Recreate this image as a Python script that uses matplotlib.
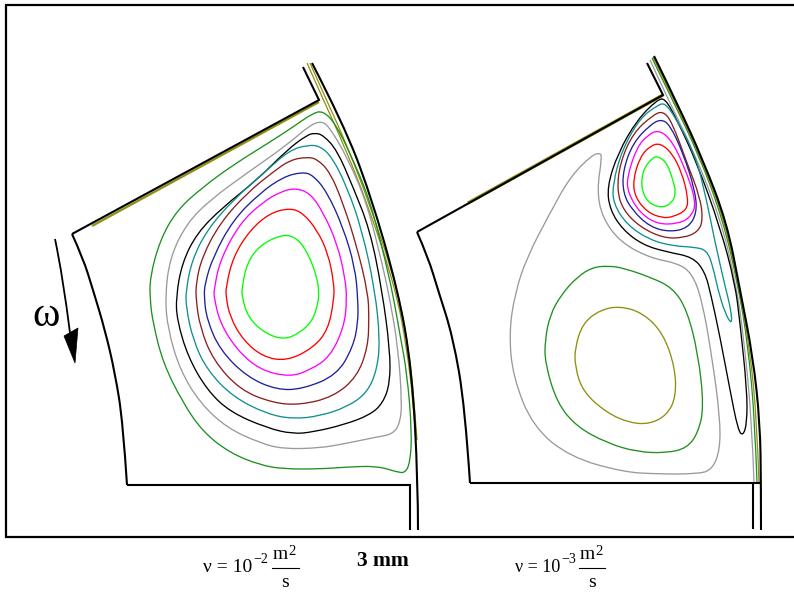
import matplotlib
matplotlib.use('Agg')
import matplotlib.pyplot as plt
from matplotlib.path import Path
from matplotlib.patches import PathPatch, Polygon

# semua koordinat, dalam piksel (y ke bawah)
frame_box = [(800, 5), (5.5, 5), (5.5, 537), (800, 537)]

# panel kiri, nu = 1e-2
left_inner = [(303, 67), (319, 100), (72, 234)]
left_arc = [(72, 234), (83, 258), (93, 290), (105, 330), (115, 373), (123, 423), (127, 485)]
left_base = [(127, 485), (410, 485), (410, 530)]
left_wall = [(312, 63), (343, 123), (370, 193), (398, 290), (412, 370), (418, 483), (418, 530)]
left_olive_top = [(92, 226), (319, 102)]
left_olive_a = [(307, 63), (323, 99), (343, 143), (368, 205), (396, 290), (407, 350), (413, 400), (416, 440)]
left_olive_b = [(310, 63), (326, 99), (346, 143), (370, 205), (398, 290), (409, 350), (414, 400), (417, 440)]

left_green = [(323, 111), (335, 123), (350, 153), (370, 200), (386, 263), (394, 300), (400, 335), (407, 373),
              (412, 433), (410, 463), (405, 473), (397, 472), (377, 466), (347, 467), (320, 469), (283, 469),
              (260, 465), (230, 453), (203, 432), (183, 403), (163, 363), (153, 323), (150, 300), (150, 277),
              (160, 240), (177, 210), (203, 187), (233, 165), (270, 142), (293, 127), (313, 113)]
left_gray = [(322, 121), (330, 128), (347, 157), (367, 203), (383, 267), (390, 300), (398, 347), (402, 403),
             (400, 423), (393, 434), (377, 437), (343, 444), (320, 448), (283, 449), (260, 443), (227, 428),
             (200, 403), (180, 370), (168, 330), (165, 297), (170, 257), (187, 223), (210, 200), (247, 173),
             (287, 145), (310, 125)]
left_black = [(315, 133), (323, 135), (337, 150), (353, 187), (370, 230), (382, 290), (390, 350), (390, 383),
              (383, 403), (370, 415), (343, 425), (313, 432), (293, 434), (267, 428), (230, 412), (207, 390),
              (188, 357), (177, 320), (176, 297), (182, 263), (197, 233), (223, 207), (257, 180), (287, 150),
              (307, 135)]
left_teal = [(308, 145), (320, 146), (332, 157), (347, 187), (362, 230), (375, 290), (380, 340), (377, 370),
             (367, 393), (347, 407), (320, 416), (293, 419), (267, 414), (233, 397), (207, 370), (193, 340),
             (186, 307), (186, 290), (192, 260), (207, 230), (233, 200), (267, 170), (290, 150)]
left_darkred = [(307, 157), (317, 159), (330, 172), (343, 203), (357, 247), (368, 293), (369, 317), (368, 347),
                (357, 377), (333, 397), (300, 405), (273, 403), (240, 390), (213, 360), (200, 327), (196, 300),
                (196, 283), (202, 257), (220, 223), (247, 193), (273, 172), (290, 160)]
left_blue = [(302, 172), (313, 175), (327, 192), (343, 227), (355, 267), (358, 300), (358, 323), (353, 347),
             (337, 375), (303, 389), (277, 390), (247, 377), (220, 350), (207, 320), (204, 297), (205, 283),
             (213, 257), (233, 220), (260, 193), (283, 177)]
left_magenta = [(295, 188), (310, 193), (323, 212), (337, 243), (345, 277), (347, 300), (344, 327), (330, 357),
                (310, 370), (290, 377), (260, 370), (237, 350), (220, 323), (214, 297), (214, 290), (220, 260),
                (240, 223), (263, 202), (280, 192)]
left_red = [(290, 208), (303, 213), (317, 230), (328, 253), (334, 283), (334, 300), (328, 330), (313, 348),
            (287, 361), (263, 357), (243, 340), (230, 317), (226, 297), (226, 287), (233, 257), (250, 230), (270, 213)]
left_lime = [(283, 234), (297, 238), (308, 253), (317, 277), (319, 293), (318, 303), (313, 320), (300, 333),
             (283, 340), (263, 332), (248, 317), (242, 297), (242, 287), (247, 263), (260, 245)]

# panel kanan, nu = 1e-3
right_inner = [(647, 63), (663, 95), (417, 232)]
right_arc = [(417, 232), (428, 257), (438, 290), (453, 337), (465, 407), (470, 483)]
right_base = [(470, 483), (761, 483)]
right_stub = [(752.5, 483), (752.5, 529)]
right_wall = [(654, 56), (677, 103), (703, 160), (727, 223), (740, 290), (753, 357), (760, 423), (761, 483), (761, 530)]
right_olive_top = [(468, 203), (663, 95)]
right_gray_wall = [(650, 60), (666, 95), (693, 150), (720, 217), (736, 283), (744, 340), (752, 423), (754, 483)]
right_green_wall = [(652, 58), (671, 97), (699, 155), (723, 220), (738, 285), (748, 345), (755, 423), (757, 483)]
right_olive_wall = [(653, 57), (674, 100), (701, 158), (725, 222), (739, 288), (750, 350), (757, 423), (759, 483)]

right_lime = [(658, 156), (667, 163), (673, 180), (676, 193), (672, 203), (662, 208), (648, 203), (641, 188),
              (643, 170), (652, 158)]
right_red = [(660, 143), (672, 153), (682, 173), (688, 197), (687, 210), (673, 217), (662, 218), (647, 212),
             (635, 197), (633, 180), (640, 157), (650, 146)]
right_magenta = [(658, 130), (670, 138), (683, 163), (697, 203), (690, 218), (677, 224), (657, 224), (640, 213),
                 (628, 193), (627, 177), (637, 147), (648, 135)]
right_blue = [(661, 119), (670, 125), (683, 153), (695, 190), (697, 213), (688, 228), (670, 232), (650, 227),
              (632, 210), (623, 193), (623, 170), (633, 143), (650, 125)]
right_darkred = [(663, 111), (672, 122), (687, 163), (700, 197), (703, 220), (698, 232), (683, 238), (663, 238),
                 (640, 227), (623, 210), (617, 190), (620, 163), (633, 133), (653, 115)]
right_teal = [(665, 103), (675, 117), (693, 150), (703, 183), (716, 247), (726, 290), (731, 310), (732, 325),
              (725, 313), (718, 290), (713, 267), (707, 250), (693, 247), (673, 246), (650, 240), (627, 225),
              (613, 203), (613, 183), (622, 150), (640, 118), (658, 105)]
right_black = [(665, 98), (677, 120), (697, 163), (720, 227), (735, 283), (740, 323), (747, 390), (747, 423),
               (743, 436), (738, 430), (730, 390), (720, 337), (711, 295), (705, 272), (693, 257), (667, 252),
               (643, 245), (623, 230), (610, 210), (607, 187), (618, 153), (637, 120), (657, 100)]
right_gray = [(600, 153), (592, 155), (570, 177), (550, 213), (527, 257), (515, 293), (509, 333), (513, 377),
              (533, 427), (570, 457), (623, 472), (657, 474), (697, 474), (712, 470), (720, 450), (720, 417),
              (712, 357), (702, 300), (692, 273), (677, 263), (650, 258), (620, 242), (602, 217), (597, 190),
              (602, 157)]
right_green = [(610, 266), (623, 268), (650, 277), (673, 288), (687, 310), (698, 353), (704, 407), (698, 433),
               (687, 448), (667, 453), (637, 452), (607, 443), (577, 427), (557, 403), (545, 363), (545, 340),
               (550, 315), (561, 295), (577, 277), (593, 267)]
right_olive = [(620, 306), (643, 313), (663, 333), (675, 367), (676, 397), (667, 415), (650, 424), (630, 423),
               (607, 413), (583, 392), (575, 367), (575, 347), (583, 323), (600, 310)]

arrow_shaft = [(55, 239), (63, 277), (70, 333)]
arrow_head = [(64, 336), (78, 328), (75, 363)]

GREEN = '#1f8f1f'
GRAY = '#9a9a9a'
TEAL = '#108f8f'
DARKRED = '#8b1f1f'
BLUE = '#1f1f9a'
OLIVE = '#8f8f10'


def garis(ax, titik, warna='black', lebar=1.5):
    xs = [p[0] for p in titik]
    ys = [p[1] for p in titik]
    ax.plot(xs, ys, color=warna, lw=lebar, solid_joinstyle='miter', solid_capstyle='butt')


def tengah(a, b):
    return ((a[0] + b[0]) / 2, (a[1] + b[1]) / 2)


def lengkung(ax, titik, warna='black', lebar=1.5):
    # kurva terbuka, halus lewat bezier kuadrat antar titik tengah
    verts = [titik[0]]
    codes = [Path.MOVETO]
    for i in range(1, len(titik) - 1):
        akhir = tengah(titik[i], titik[i + 1]) if i < len(titik) - 2 else titik[-1]
        verts += [titik[i], akhir]
        codes += [Path.CURVE3, Path.CURVE3]
    ax.add_patch(PathPatch(Path(verts, codes), fill=False, edgecolor=warna, lw=lebar, capstyle='butt'))


def kontur(ax, titik, warna, lebar=0.95):
    # sama, tapi kurva tertutup
    n = len(titik)
    verts = [tengah(titik[-1], titik[0])]
    codes = [Path.MOVETO]
    for i in range(n):
        verts += [titik[i], tengah(titik[i], titik[(i + 1) % n])]
        codes += [Path.CURVE3, Path.CURVE3]
    ax.add_patch(PathPatch(Path(verts, codes), fill=False, edgecolor=warna, lw=lebar))


def label_nu(ax, x, pangkat, x_pangkat, bar0, bar1, ukuran):
    serif = 'Liberation Serif'
    ax.text(x, 572, '\u03bd = 10', family=serif, fontsize=ukuran, va='baseline', ha='left')
    ax.text(x_pangkat, 563, pangkat, family=serif, fontsize=10, va='baseline', ha='left')
    ax.text(bar0 + 1, 559, 'm', family=serif, fontsize=14, va='baseline', ha='left')
    ax.text(bar0 + 16, 555, '2', family=serif, fontsize=10.5, va='baseline', ha='left')
    ax.plot([bar0, bar1], [568, 568], color='black', lw=0.8)
    ax.text((bar0 + bar1) / 2, 587, 's', family=serif, fontsize=14, va='baseline', ha='center')


fig = plt.figure(figsize=(7.94, 5.92), dpi=100)
ax = fig.add_axes([0, 0, 1, 1])
ax.set_xlim(0, 794)
ax.set_ylim(592, 0)
ax.axis('off')

garis(ax, frame_box, lebar=1.6)

garis(ax, left_olive_top, OLIVE, 1.6)
lengkung(ax, left_olive_a, OLIVE, 0.9)
lengkung(ax, left_olive_b, OLIVE, 0.9)
garis(ax, left_inner)
lengkung(ax, left_arc)
garis(ax, left_base)
lengkung(ax, left_wall)

for titik, warna in [(left_green, GREEN), (left_gray, GRAY), (left_black, 'black'), (left_teal, TEAL),
                     (left_darkred, DARKRED), (left_blue, BLUE), (left_magenta, '#ff00ff'),
                     (left_red, '#ff0000'), (left_lime, '#00ff00')]:
    kontur(ax, titik, warna)

garis(ax, right_olive_top, OLIVE, 2.4)
lengkung(ax, right_gray_wall, GRAY, 0.9)
lengkung(ax, right_green_wall, GREEN, 0.9)
lengkung(ax, right_olive_wall, OLIVE, 0.9)
garis(ax, right_inner)
lengkung(ax, right_arc)
garis(ax, right_base)
garis(ax, right_stub)
lengkung(ax, right_wall)

for titik, warna in [(right_gray, GRAY), (right_green, GREEN), (right_olive, OLIVE), (right_black, 'black'),
                     (right_teal, TEAL), (right_darkred, DARKRED), (right_blue, BLUE),
                     (right_magenta, '#ff00ff'), (right_red, '#ff0000'), (right_lime, '#00ff00')]:
    kontur(ax, titik, warna)

lengkung(ax, arrow_shaft, lebar=1.3)
ax.add_patch(Polygon(arrow_head, closed=True, facecolor='black', edgecolor='black', lw=0.5))
ax.text(46, 326, '\u03c9', family='Liberation Serif', fontsize=30, ha='center', va='baseline')

label_nu(ax, 203, '\u22122', 253, 272, 299, 14)
label_nu(ax, 515, '\u22123', 561, 579, 605, 13)
ax.text(357, 566, '3 mm', family='Liberation Serif', fontweight='bold', fontsize=15.5, va='baseline', ha='left')

fig.savefig('out.png', dpi=100)
